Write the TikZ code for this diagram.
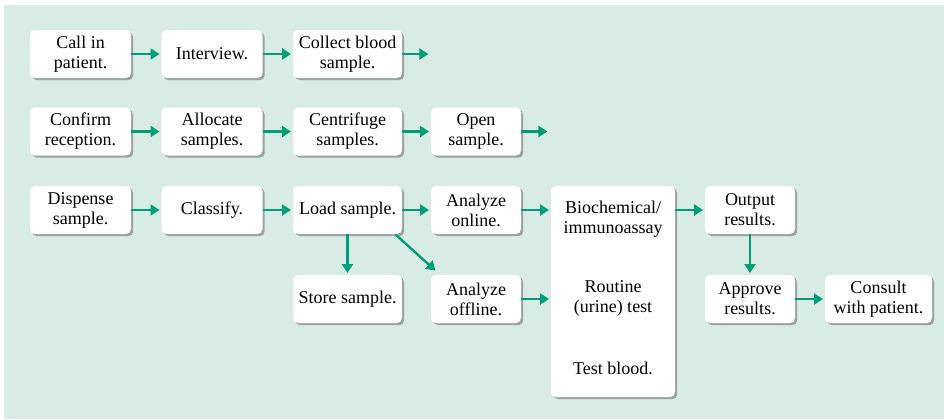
\documentclass[tikz,border=0pt]{standalone}
\usepackage{fontspec}
\setmainfont{Liberation Serif}
\usetikzlibrary{arrows.meta,shadows}
\definecolor{panelgreen}{RGB}{216,236,229}
\definecolor{flowgreen}{RGB}{0,158,120}
\tikzset{minimum height=24pt}

\begin{document}
\begin{tikzpicture}[x=0.5pt,y=-0.5pt,
            font=\fontsize{9}{10}\selectfont,
            stage/.style={fill=white,rounded corners=2.5pt,align=center,inner sep=2pt,
                drop shadow={shadow xshift=1.1pt,shadow yshift=-1.1pt,fill=black!60,opacity=0.55}},
            test/.style={align=center},
            flow/.style={draw=flowgreen,line width=1.2pt,shorten >=0.8pt,-{Triangle[length=4.5pt,width=5.5pt]}}
            ]
            \useasboundingbox (0,0) rectangle (944,419);
            \fill[panelgreen] (4,5) rectangle (944,419);
            % first row
            \node[stage,minimum width=50.5pt] (call) at (80.5,54) {Call in\\patient.};
            \node[stage,minimum width=50.5pt] (interview) at (212,54) {Interview.};
            \node[stage,minimum width=54.5pt] (collect) at (347.5,54) {Collect blood\\sample.};
            \coordinate (collectout) at (430,54);
            % second row
            \node[stage,minimum width=50.5pt] (confirm) at (80.5,131.5) {Confirm\\reception.};
            \node[stage,minimum width=50.5pt] (allocate) at (212,131.5) {Allocate\\samples.};
            \node[stage,minimum width=54.5pt] (centrifuge) at (347.5,131.5) {Centrifuge\\samples.};
            \node[stage,minimum width=45pt] (open) at (476,131.5) {Open\\sample.};
            \coordinate (openout) at (549,131.5);
            % third row
            \node[stage,minimum width=50.5pt] (dispense) at (80.5,210) {Dispense\\sample.};
            \node[stage,minimum width=50.5pt] (classify) at (212,210) {Classify.};
            \node[stage,minimum width=54.5pt] (load) at (347.5,210) {Load sample.};
            \node[stage,minimum width=45pt] (online) at (476,210) {Analyze\\online.};
            \node[stage,minimum width=62pt,minimum height=105.5pt] (lab) at (613,291.5) {};
            \node[test] (biochem) at (613,219) {Biochemical/\\immunoassay};
            \node[test] (routine) at (613,298) {Routine\\(urine) test};
            \node[test] (blood) at (613,368) {Test blood.};
            \node[stage,minimum width=45pt] (output) at (750,210) {Output\\results.};
            % fourth row
            \node[stage,minimum width=54.5pt] (store) at (347.5,299) {Store sample.};
            \node[stage,minimum width=45pt] (offline) at (476,299) {Analyze\\offline.};
            \node[stage,minimum width=45pt] (approve) at (750,299) {Approve\\results.};
            \node[stage,minimum width=53.5pt] (consult) at (878.5,299) {Consult\\with patient.};

            \draw[flow] (call) -- (interview);
            \draw[flow] (interview) -- (collect);
            \draw[flow] (collect) -- (collectout);
            \draw[flow] (confirm) -- (allocate);
            \draw[flow] (allocate) -- (centrifuge);
            \draw[flow] (centrifuge) -- (open);
            \draw[flow] (open) -- (openout);
            \draw[flow] (dispense) -- (classify);
            \draw[flow] (classify) -- (load);
            \draw[flow] (load) -- (online);
            \draw[flow] (load) -- (store);
            \draw[flow] ([xshift=-3.5pt]load.south east) -- ([xshift=3pt,yshift=1.5pt]offline.north west);
            \draw[flow] (online) -- (lab.west |- online);
            \draw[flow] (offline) -- (lab.west |- offline);
            \draw[flow] (lab.east |- output) -- (output);
            \draw[flow] (output) -- (approve);
            \draw[flow] (approve) -- (consult);
        \end{tikzpicture}
\end{document}
